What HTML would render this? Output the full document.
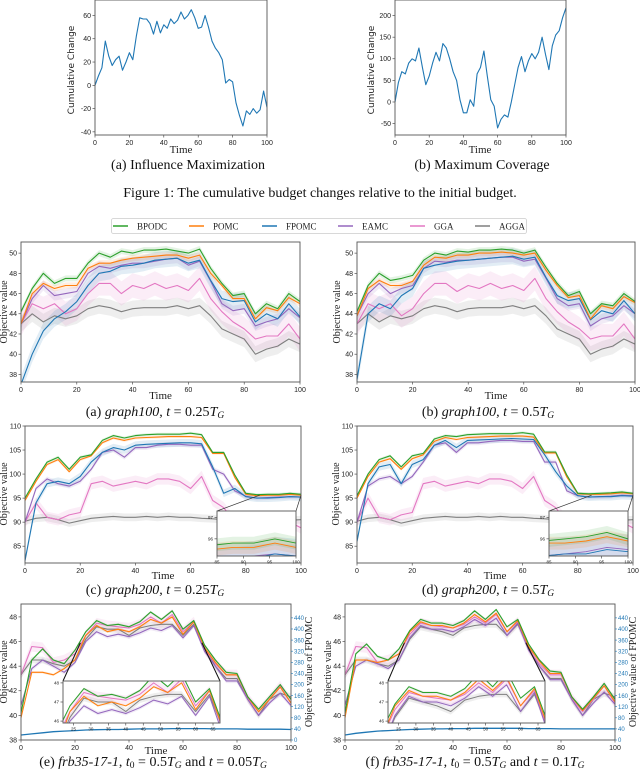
<!DOCTYPE html>
<html><head><meta charset="utf-8"><style>
html,body{margin:0;background:#fff;overflow:hidden;width:640px;height:777px}
svg{display:block}
</style></head><body>
<svg id="fig" width="640" height="777" xmlns="http://www.w3.org/2000/svg" font-family="'Liberation Sans','DejaVu Sans',sans-serif" overflow="hidden"></svg>
<script>
// ---------- Figure 1 data ----------
const budgetTime = [0,2,4,6,8,10,12,14,16,18,20,22,24,26,28,30,32,34,36,38,40,42,44,46,48,50,52,54,56,58,60,62,64,66,68,70,72,74,76,78,80,82,84,86,88,90,92,94,96,98,100];
const influenceChange = [0,8,15,38,25,17,22,25,13,20,28,22,42,58,57,57,53,44,55,45,52,49,57,53,56,63,57,60,65,58,49,50,60,50,38,32,28,22,2,5,3,-15,-26,-35,-22,-25,-20,-24,-21,-5,-19];
const coverageChange = [0,45,70,65,90,100,95,125,80,40,60,90,115,95,135,125,100,70,50,5,-25,-25,5,-10,65,80,118,60,5,-10,-60,-40,-30,-35,0,40,80,105,70,95,112,100,115,150,110,75,130,155,165,195,218];
const fig1YTicksA = [-40,-20,0,20,40,60];
const fig1YTicksB = [-50,0,50,100,150,200];
const timeTicks = [0,20,40,60,80,100];

// ---------- Figure 2 data (t = 0,4,...,100) ----------
const T = [0,4,8,12,16,20,24,28,32,36,40,44,48,52,56,60,64,68,72,76,80,84,88,92,96,100];
const seriesNames = ["BPODC","POMC","FPOMC","EAMC","GGA","AGGA"];
const g100a_BPODC = [44.2,46.5,48,47,47.5,47.5,49,50,49.6,50.2,50,50.3,50.3,50.4,50.2,50,50.4,48.5,47,45.8,46,44,45,44.5,46,45.2];
const g100a_POMC  = [43,46,47,46.5,46.8,46.8,48.5,49,49,49.3,49.5,49.6,49.7,49.8,49.8,49.5,49.8,48,46.8,45.5,45.5,43.5,44.6,44.3,45.6,45];
const g100a_FPOMC = [37,40,42.3,43.5,44.2,45.2,46.8,48,48.2,48.7,48.8,49,49.3,49.4,49.5,49,49.3,47.3,45.5,45.2,45.3,43.2,44,43.5,45,43.7];
const g100a_EAMC  = [43,45.5,46.8,45.8,46,46.2,48,48.7,48.5,48.8,49,49,49.2,49.4,49.5,48.8,49.2,47.2,45,44.3,44.5,42.8,43.2,43.5,44.5,43.6];
const g100a_GGA   = [43,45,44.5,45,44,44.5,46,47,47,46,46.8,46.5,47,46.5,46.8,46.3,47.5,45.5,44.2,43.2,42.5,41.5,41.8,41.8,43,41.5];
const g100a_AGGA  = [43,44,43.2,43.8,43.5,43.8,44.5,44.8,44.6,44.2,44.5,44.6,44.6,44.6,44.8,44.5,44.8,43.8,42.5,42,41.5,40,40.5,40.8,41.5,41];
const g100b_BPODC = [44.2,46.8,48,47.3,47.5,47.8,49.3,50,49.8,50.2,50.1,50.3,50.3,50.4,50.3,50,50.3,48.6,47,45.8,46.2,44,45,44.8,46,45.2];
const g100b_POMC  = [43.8,46.5,47.3,46.8,46.8,47.2,48.8,49.6,49.5,49.8,49.8,50,50,50.1,50,49.8,50,48.3,46.8,45.6,45.8,43.5,44.8,44.5,45.7,45.1];
const g100b_FPOMC = [37.5,44,45,44.5,45.8,46.5,48.5,48.8,49,49.2,49.3,49.4,49.5,49.6,49.7,49.4,49.6,47.6,45.8,45.3,45.5,43.4,44.3,44,45.3,44];
const g100b_EAMC  = [43.8,46,47,46,46.5,46.8,48.5,49.2,49.1,49.3,49.3,49.4,49.5,49.6,49.6,49.2,49.4,47.5,45.5,44.8,45,42.8,43.5,43.8,44.8,44];
const g100b_GGA   = [43,45,44.5,45,43.8,44.5,46,47,47,46.2,46.8,46.5,47,46.5,46.8,46.3,47.5,45.5,44.2,43.2,42.5,41.5,41.8,41.8,43,41.5];
const g100b_AGGA  = [43,44,43.2,43.8,43.5,43.8,44.5,44.8,44.6,44.2,44.5,44.6,44.6,44.6,44.8,44.5,44.8,43.8,42.5,42,41.5,40,40.5,40.8,41.5,41];
const g200a_BPODC = [95,99,102.5,103.5,101,103.5,104,107,108,107.5,108,108.2,108.3,108.3,108.3,108.5,108.2,104.5,104.5,99.8,96,95.7,95.8,95.8,96,95.8];
const g200a_POMC  = [94.5,98.5,102,103,100.5,103,103.8,106.5,107.5,107,107.5,107.6,107.7,107.8,107.8,107.8,107.6,104.3,104.3,99.3,95.8,95.5,95.6,95.6,95.8,95.6];
const g200a_FPOMC = [82,94,98,98.5,98,99.5,102.5,104.5,105.5,105,106,106.2,106.3,106.4,106.5,106.5,106.3,101.5,96,97,95.3,95,95,95.1,95.3,95.2];
const g200a_EAMC  = [90,97,99,98,97.5,98.5,101,104.5,105,103.5,105.5,105.5,106,106.2,106.2,106,106,101,100,96.5,95.4,95,95.1,95.2,95.3,95.2];
const g200a_GGA   = [90,94,91,90.5,91.5,92,98,98.5,97.5,98,98.5,98,99,99,98.5,97,99.5,94.5,93,90,89.5,89.5,90,89.5,90,88.8];
const g200a_AGGA  = [90.2,90.8,91,90.5,89.8,90.3,90.8,91,91.2,91,91,91.2,91,91.2,91,91,90.8,90.7,90.5,90.5,90.2,90.3,90.2,90.3,90.4,90.5];
const g200b_BPODC = [95.5,100,103,103.8,101.5,103.8,104.3,107.3,108,107.8,108.2,108.3,108.4,108.4,108.4,108.6,108.3,104.6,104.6,99.8,96,95.9,96,96.1,96.3,96];
const g200b_POMC  = [95,99.5,102.5,103.2,101,103.2,104,106.8,107.6,107.2,107.6,107.7,107.8,107.9,107.9,107.9,107.7,104.4,104.4,99.4,95.9,95.8,95.8,95.9,96.1,95.9];
const g200b_FPOMC = [86,98,101.5,102,98,102,103,106,107,105.5,107,107.1,107.2,107.3,107.4,107.3,107.2,104,100.5,97.5,95.5,95.2,95.3,95.3,95.5,95.4];
const g200b_EAMC  = [90,97.5,99,99.5,98,99.5,102.5,106,106.5,104.5,106.5,106.5,106.8,107,107,106.8,106.8,102.5,102.5,96.5,95.5,95.2,95.3,95.4,95.6,95.5];
const g200b_GGA   = [90,95,91,90.5,91.5,92,98,98.5,97.5,98,98.5,98,99,99,98.5,97,99.5,94.5,93,90,89.5,89.5,90,89.5,90,88.8];
const g200b_AGGA  = [90.2,90.8,91,90.5,89.8,90.3,90.8,91,91.2,91,91,91.2,91,91.2,91,91,90.8,90.7,90.5,90.5,90.2,90.3,90.2,90.3,90.4,90.5];
const frbA_BPODC = [40.2,44.5,45.4,44.5,44.2,45.3,46.8,47.7,47.3,47.4,47.2,47.6,48.4,47.8,48.5,47,47.7,45.7,44.5,43.5,43.4,41.5,40.5,41.5,42.5,41.3];
const frbA_POMC  = [39.8,43.5,43.5,43.3,43.8,44.5,46.5,47.3,46.8,47,46.8,47.2,47.8,47.5,48,46.6,47.6,45.5,44.3,43.3,43.3,41.5,40.3,41.3,42.3,41];
const frbA_FPOMC = [18,22,26,30,32,34,36,37,38,38,39,40,40,40,41,41,41,41,40,40,40,39,39,39,39,38];
const frbA_EAMC  = [40.8,43.8,44.5,44,43.5,44.3,46,46.8,46.4,46.6,46.4,46.7,47.1,46.9,47.3,46.3,47.3,45.2,44,42.8,42.8,41.3,40,41,41.8,40.8];
const frbA_GGA   = [43.3,45.6,45.5,44.3,44.5,45,46.5,47.5,47.3,47.2,47.1,47.4,48,47.5,48.2,46.8,47.6,45.4,44.2,43.3,43.3,41.4,40.3,41.3,42.4,41];
const frbA_AGGA  = [43.3,44.5,44.5,44.2,44,44.5,46.2,47.2,47,47,46.5,47.1,47.3,47.4,47.4,46.5,47.4,45.5,44,43,43,41.3,40,41.3,41.8,41.5];
const frbB_BPODC = [40.2,45,45.8,44.8,44.5,45.4,46.9,47.8,47.5,47.5,47.3,47.7,48.5,47.8,48.6,47.2,47.8,45.8,44.5,43.6,43.5,41.5,40.5,41.5,42.6,41.3];
const frbB_POMC  = [39.8,44.5,44.5,44.3,44.5,45,46.8,47.6,47.3,47.3,47.1,47.5,48.2,47.6,48.3,46.8,47.7,45.6,44.4,43.4,43.4,41.5,40.4,41.4,42.4,41.1];
const frbB_FPOMC = [18,24,28,32,34,36,38,39,40,40,41,41,42,42,42,42,42,41,41,41,40,40,40,40,40,40];
const frbB_EAMC  = [40.8,44,44.5,44.2,43.8,44.5,46.3,47.3,47,47,46.8,47.2,47.8,47.3,47.9,46.5,47.5,45.3,44,42.9,42.9,41.3,40,41,41.9,40.9];
const frbB_GGA   = [43.3,45.6,45.5,44.3,44.5,45,46.6,47.5,47.3,47.2,47.1,47.4,48,47.5,48.2,46.8,47.6,45.4,44.2,43.3,43.3,41.4,40.3,41.3,42.4,41];
const frbB_AGGA  = [43.3,44.5,44.5,44.2,44,44.5,46.2,47.2,47,46.8,46.5,47.1,47.3,47.4,47.4,46.5,47.4,45.5,44,43,43,41.3,40,41.3,41.8,41.5];
const g100YTicks = [38,40,42,44,46,48,50];
const g200YTicks = [85,90,95,100,105,110];
const frbYTicks = [38,40,42,44,46,48];
const frbRightTicks = [0,40,80,120,160,200,240,280,320,360,400,440];

// ---------- helpers ----------
const NS = "http://www.w3.org/2000/svg";
const svg = document.getElementById('fig');
const COLORS = {BPODC:"#2ca02c",POMC:"#ff7f0e",FPOMC:"#1f77b4",EAMC:"#9467bd",GGA:"#e377c2",AGGA:"#7f7f7f"};
const BAND = {BPODC:0.3,POMC:0.3,FPOMC:0.8,EAMC:0.5,GGA:1.2,AGGA:0.8};
let clipId = 0;
function el(tag, attrs, parent){
  const e = document.createElementNS(NS, tag);
  for (const k in attrs) e.setAttribute(k, attrs[k]);
  (parent||svg).appendChild(e);
  return e;
}
function scale(d0,d1,r0,r1){ return v => r0 + (v-d0)*(r1-r0)/(d1-d0); }
function text(parent, x, y, str, size, anchor, extra){
  const t = el('text', Object.assign({x:x, y:y, 'font-size':size, 'text-anchor':anchor||'middle', fill:'#222'}, extra||{}), parent);
  t.textContent = str;
  return t;
}
function axes(name, box, xd, yd, xticks, yticks, opts){
  const g = el('g', {});
  
  
  const sx = scale(xd[0], xd[1], box.x0, box.x1);
  const sy = scale(yd[0], yd[1], box.y1, box.y0);
  el('rect', {x:box.x0, y:box.y0, width:box.x1-box.x0, height:box.y1-box.y0, fill:'#fff'}, g);
  const id = 'clip' + (clipId++);
  const cp = el('clipPath', {id:id}, g);
  el('rect', {x:box.x0, y:box.y0, width:box.x1-box.x0, height:box.y1-box.y0}, cp);
  const plot = el('g', {'clip-path':'url(#'+id+')'}, g);
  const fs = opts.tickSize || 7;
  xticks.forEach(v => {
    el('line', {x1:sx(v), x2:sx(v), y1:box.y1, y2:box.y1+2.5, stroke:'#333', 'stroke-width':0.6}, g);
    const t = text(g, sx(v), box.y1+3+fs, v, fs);
    
    
  });
  yticks.forEach(v => {
    el('line', {x1:box.x0-2.5, x2:box.x0, y1:sy(v), y2:sy(v), stroke:'#333', 'stroke-width':0.6}, g);
    const t = text(g, box.x0-4, sy(v)+fs*0.35, v, fs, 'end');
    
    
  });
  return {g, plot, sx, sy, box, frame(){ el('rect', {x:box.x0, y:box.y0, width:box.x1-box.x0, height:box.y1-box.y0, fill:'none', stroke:'#555', 'stroke-width':0.9}, g); }};
}
function line(parent, xs, ys, sx, sy, color, w, name){
  const p = el('polyline', {points: xs.map((x,i)=>sx(x).toFixed(1)+','+sy(ys[i]).toFixed(1)).join(' '), fill:'none', stroke:color, 'stroke-width':w, 'stroke-linejoin':'round'}, parent);
  
  
  return p;
}
function band(parent, xs, ys, sx, sy, color, b, name){
  const up = xs.map((x,i)=>sx(x).toFixed(1)+','+sy(ys[i]+b).toFixed(1));
  const dn = xs.map((x,i)=>sx(x).toFixed(1)+','+sy(ys[i]-b).toFixed(1)).reverse();
  const p = el('polygon', {points: up.concat(dn).join(' '), fill:color, opacity:0.13}, parent);
  
  
}
function drawSeries(plot, sx, sy, data, skip, w, bm){
  const order = ["AGGA","GGA","EAMC","FPOMC","POMC","BPODC"];
  const m = bm===undefined ? 1 : bm;
  if (m > 0) order.forEach(n => { if (skip && skip.includes(n)) return; band(plot, T, data[n], sx, sy, COLORS[n], BAND[n]*m, n.toLowerCase()+'-band'); });
  order.forEach(n => { if (skip && skip.includes(n)) return; line(plot, T, data[n], sx, sy, COLORS[n], w||1.1, n.toLowerCase()+'-line'); });
}
function caption(x, y, parts, name){
  const t = el('text', {x:x, y:y, 'font-size':14, 'text-anchor':'middle', fill:'#111', 'font-family':"'Liberation Serif',serif"});
  
  
  parts.forEach(p => {
    const s = el('tspan', {}, t);
    if (p.i) s.setAttribute('font-style','italic');
    if (p.sub) { s.setAttribute('dy','2'); s.setAttribute('font-size','9.5'); }
    if (p.after) s.setAttribute('dy','-2');
    s.textContent = p.t;
  });
}
function ylabel(x, y, str, size, name, color, family){
  const t = el('text', {x:x, y:y, 'font-size':size, 'text-anchor':'middle', fill:color||'#222', transform:'rotate(-90 '+x+' '+y+')', 'font-family':family||"'DejaVu Sans',sans-serif"});
  t.textContent = str;
  
  
}
function xlabel(x, y, name){
  const t = text(svg, x, y, 'Time', 11, 'middle', {'font-family':"'Liberation Serif',serif"});
  
  
}

// ---------- Figure 1 ----------
{
  const a = axes('chart-influence-maximization', {x0:95,x1:267,y0:0,y1:135}, [0,100], [-42.7,73.3], timeTicks, fig1YTicksA, {tickSize:7});
  line(a.plot, budgetTime, influenceChange, a.sx, a.sy, COLORS.FPOMC, 1.1, 'influence-line');
  a.frame();
  ylabel(74, 70, 'Cumulative Change', 9, 'y-axis-title-a');
  xlabel(181, 153, 'x-axis-title-a');
  caption(188, 169, [{t:'(a) Influence Maximization'}], 'caption-a');

  const b = axes('chart-maximum-coverage', {x0:395,x1:566,y0:0,y1:135}, [0,100], [-76.4,236], timeTicks, fig1YTicksB, {tickSize:7});
  line(b.plot, budgetTime, coverageChange, b.sx, b.sy, COLORS.FPOMC, 1.1, 'coverage-line');
  b.frame();
  ylabel(374, 70, 'Cumulative Change', 9, 'y-axis-title-b');
  xlabel(480, 153, 'x-axis-title-b');
  caption(482, 169, [{t:'(b) Maximum Coverage'}], 'caption-b');

  caption(320, 197, [{t:'Figure 1: The cumulative budget changes relative to the initial budget.'}], 'figure-1-caption');
}

// ---------- Legend ----------
{
  const g = el('g', {});
  
  
  el('rect', {x:111.5, y:218.5, width:415, height:15, rx:2, fill:'#fff', stroke:'#ccc', 'stroke-width':0.8}, g);
  const lx = [113,189,262,338,410,475];
  seriesNames.forEach((n,i) => {
    const e = el('g', {}, g);
    
    
    el('line', {x1:lx[i], x2:lx[i]+15, y1:226, y2:226, stroke:COLORS[n], 'stroke-width':1.5}, e);
    text(e, lx[i]+24, 229.5, n, 9, 'start', {'font-family':"'Liberation Serif',serif"});
  });
}

// ---------- Figure 2 panels ----------
function pack(a){
  return {BPODC:a[0],POMC:a[1],FPOMC:a[2],EAMC:a[3],GGA:a[4],AGGA:a[5]};
}
function g100(name, x0, x1, data, yl, cx, cap){
  const a = axes(name, {x0:x0,x1:x1,y0:242,y1:382}, [0,100], [37.25,51.1], timeTicks, g100YTicks, {tickSize:7});
  drawSeries(a.plot, a.sx, a.sy, data);
  a.frame();
  ylabel(yl, 312, 'Objective value', 10, name+'-y-title', '#222', "'Liberation Serif',serif");
  xlabel((x0+x1)/2, 399, name+'-x-title');
  caption(cx, 416, cap, name+'-caption');
}
g100('graph100-t025', 21, 300, pack([g100a_BPODC,g100a_POMC,g100a_FPOMC,g100a_EAMC,g100a_GGA,g100a_AGGA]), 7, 155,
  [{t:'(a) '},{t:'graph100',i:1},{t:', '},{t:'t',i:1},{t:' = 0.25'},{t:'T',i:1},{t:'G',i:1,sub:1}]);
g100('graph100-t05', 357, 635, pack([g100b_BPODC,g100b_POMC,g100b_FPOMC,g100b_EAMC,g100b_GGA,g100b_AGGA]), 340, 488,
  [{t:'(b) '},{t:'graph100',i:1},{t:', '},{t:'t',i:1},{t:' = 0.5'},{t:'T',i:1},{t:'G',i:1,sub:1}]);

function g200(name, x0, x1, data, yl, cx, cap, ix){
  const a = axes(name, {x0:x0,x1:x1,y0:426,y1:563}, [0,100], [81.5,110], timeTicks, g200YTicks, {tickSize:7});
  drawSeries(a.plot, a.sx, a.sy, data);
  a.frame();
  const ib = {x0:ix, x1:ix+79, y0:511, y1:556};
  el('line', {x1:ib.x0, y1:ib.y0, x2:a.sx(85), y2:a.sy(95.6), stroke:'#333', 'stroke-width':0.7}, a.g);
  el('line', {x1:ib.x1, y1:ib.y0, x2:a.sx(100), y2:a.sy(95.6), stroke:'#333', 'stroke-width':0.7}, a.g);
  const ins = axes(name+'-inset', ib, [85,100], [95.2,97.3], [85,90,95,100], [96,97], {tickSize:4.5});
  drawSeries(ins.plot, ins.sx, ins.sy, data, ["GGA","AGGA"], 0.9);
  ins.frame();
  ylabel(yl, 494, 'Objective value', 10, name+'-y-title', '#222', "'Liberation Serif',serif");
  xlabel((x0+x1)/2, 579, name+'-x-title');
  caption(cx, 594, cap, name+'-caption');
}
g200('graph200-t025', 25, 301, pack([g200a_BPODC,g200a_POMC,g200a_FPOMC,g200a_EAMC,g200a_GGA,g200a_AGGA]), 7, 155,
  [{t:'(c) '},{t:'graph200',i:1},{t:', '},{t:'t',i:1},{t:' = 0.25'},{t:'T',i:1},{t:'G',i:1,sub:1}], 217);
g200('graph200-t05', 357, 633, pack([g200b_BPODC,g200b_POMC,g200b_FPOMC,g200b_EAMC,g200b_GGA,g200b_AGGA]), 339, 488,
  [{t:'(d) '},{t:'graph200',i:1},{t:', '},{t:'t',i:1},{t:' = 0.5'},{t:'T',i:1},{t:'G',i:1,sub:1}], 549);

function frb(name, x0, x1, data, yl, cx, cap, ix){
  const a = axes(name, {x0:x0,x1:x1,y0:604,y1:740}, [0,100], [38,49.05], timeTicks, frbYTicks, {tickSize:7});
  drawSeries(a.plot, a.sx, a.sy, data, ["FPOMC"], 1.1, 0.35);
  const sy2 = scale(0, 490, 740, 604);
  line(a.plot, T, data.FPOMC, a.sx, sy2, COLORS.FPOMC, 1.3, 'fpomc-right-axis-line');
  a.frame();
  frbRightTicks.forEach(v => {
    el('line', {x1:x1, x2:x1+2, y1:sy2(v), y2:sy2(v), stroke:COLORS.FPOMC, 'stroke-width':0.6}, a.g);
    const t = text(a.g, x1+3, sy2(v)+2.2, v, 6, 'start', {fill:COLORS.FPOMC});
    
    
  });
  const ib = {x0:ix, x1:ix+157, y0:681, y1:723};
  el('line', {x1:ib.x0, y1:ib.y0, x2:a.sx(22), y2:a.sy(45.9), stroke:'#111', 'stroke-width':1}, a.g);
  el('line', {x1:ib.x1, y1:ib.y0, x2:a.sx(67), y2:a.sy(45.9), stroke:'#111', 'stroke-width':1}, a.g);
  const ins = axes(name+'-inset', ib, [22,67], [45.9,48.1], [25,30,35,40,45,50,55,60,65], [46,47,48], {tickSize:4.5});
  drawSeries(ins.plot, ins.sx, ins.sy, data, ["FPOMC"], 1, 0.2);
  ins.frame();
  ylabel(yl, 672, 'Objective value', 10, name+'-y-title', '#222', "'Liberation Serif',serif");
  ylabel(x1+21, 672, 'Objective value of FPOMC', 10, name+'-right-y-title', '#222', "'Liberation Serif',serif");
  xlabel((x0+x1)/2, 754, name+'-x-title');
  caption(cx, 766, cap, name+'-caption');
}
frb('frb-t005', 21, 291, pack([frbA_BPODC,frbA_POMC,frbA_FPOMC,frbA_EAMC,frbA_GGA,frbA_AGGA]), 7, 153,
  [{t:'(e) '},{t:'frb35-17-1',i:1},{t:', '},{t:'t',i:1},{t:'0',sub:1},{t:' = 0.5',after:1},{t:'T',i:1},{t:'G',i:1,sub:1},{t:' and ',after:1},{t:'t',i:1},{t:' = 0.05'},{t:'T',i:1},{t:'G',i:1,sub:1}], 63);
frb('frb-t01', 345, 615, pack([frbB_BPODC,frbB_POMC,frbB_FPOMC,frbB_EAMC,frbB_GGA,frbB_AGGA]), 331, 475,
  [{t:'(f) '},{t:'frb35-17-1',i:1},{t:', '},{t:'t',i:1},{t:'0',sub:1},{t:' = 0.5',after:1},{t:'T',i:1},{t:'G',i:1,sub:1},{t:' and ',after:1},{t:'t',i:1},{t:' = 0.1'},{t:'T',i:1},{t:'G',i:1,sub:1}], 388);
</script>
</body></html>
